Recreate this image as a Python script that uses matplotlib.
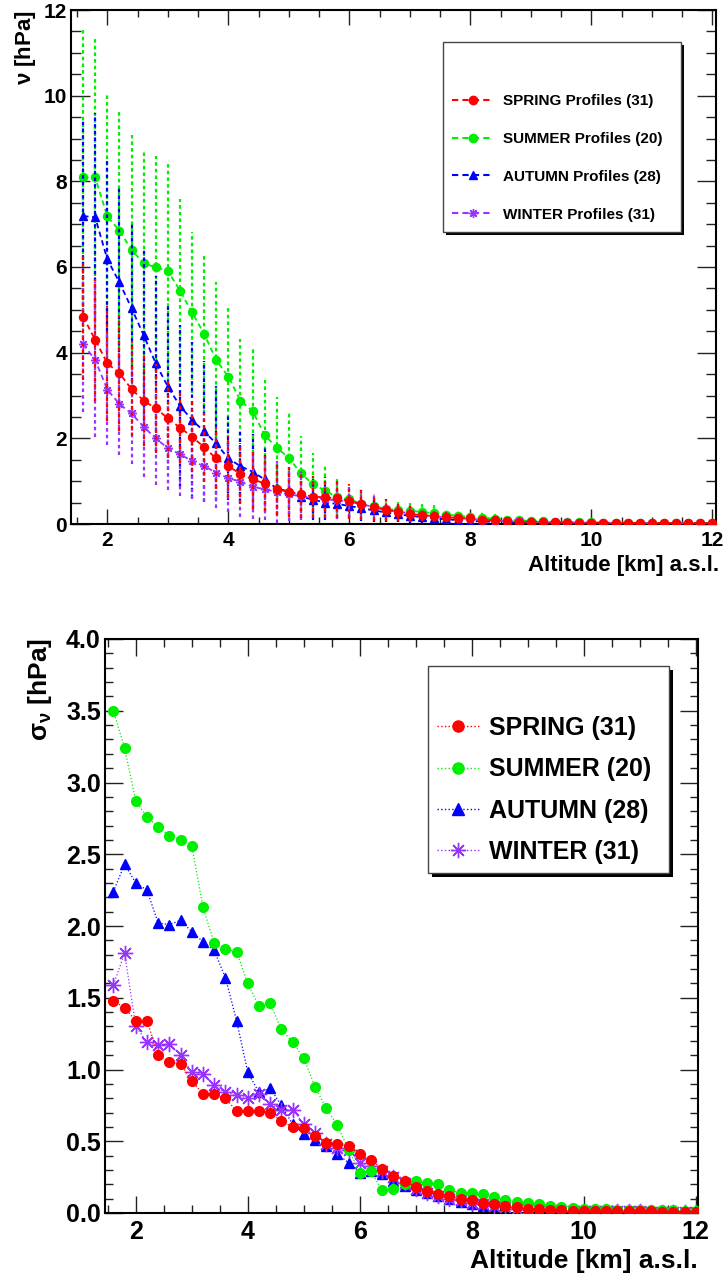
import matplotlib
matplotlib.use('Agg')
import matplotlib.pyplot as plt
from matplotlib.lines import Line2D
from matplotlib.patches import Rectangle

plt.rcParams['font.family'] = ['Liberation Sans', 'DejaVu Sans']
plt.rcParams['font.weight'] = 'bold'
plt.rcParams['mathtext.fontset'] = 'custom'
plt.rcParams['mathtext.rm'] = 'Liberation Sans'
plt.rcParams['mathtext.it'] = 'Liberation Sans'
plt.rcParams['mathtext.default'] = 'regular'

# altitude bins [km a.s.l.]
altitude = [1.6, 1.8, 2.0, 2.2, 2.4, 2.6, 2.8, 3.0, 3.2, 3.4,
            3.6, 3.8, 4.0, 4.2, 4.4, 4.6, 4.8, 5.0, 5.2, 5.4,
            5.6, 5.8, 6.0, 6.2, 6.4, 6.6, 6.8, 7.0, 7.2, 7.4,
            7.6, 7.8, 8.0, 8.2, 8.4, 8.6, 8.8, 9.0, 9.2, 9.4,
            9.6, 9.8, 10.0, 10.2, 10.4, 10.6, 10.8, 11.0, 11.2, 11.4,
            11.6, 11.8, 12.0]

# mean water vapour pressure [hPa]
spring_mean = [4.84, 4.30, 3.75, 3.52, 3.15, 2.88, 2.70, 2.47, 2.25, 2.04,
               1.79, 1.53, 1.35, 1.17, 1.04, 0.95, 0.81, 0.75, 0.69, 0.64,
               0.62, 0.60, 0.53, 0.46, 0.39, 0.33, 0.28, 0.23, 0.21, 0.18,
               0.16, 0.14, 0.13, 0.10, 0.085, 0.06, 0.055, 0.045, 0.04, 0.037,
               0.035, 0.032, 0.03, 0.028, 0.026, 0.025, 0.024, 0.023, 0.022, 0.021,
               0.02, 0.02, 0.02]
summer_mean = [8.09, 8.09, 7.18, 6.85, 6.40, 6.09, 5.99, 5.91, 5.45, 4.94,
               4.44, 3.83, 3.44, 2.88, 2.64, 2.08, 1.78, 1.55, 1.18, 0.93,
               0.78, 0.62, 0.58, 0.47, 0.42, 0.36, 0.32, 0.31, 0.28, 0.25,
               0.22, 0.19, 0.17, 0.15, 0.12, 0.10, 0.09, 0.07, 0.06, 0.05,
               0.045, 0.04, 0.037, 0.034, 0.032, 0.03, 0.028, 0.026, 0.025, 0.024,
               0.023, 0.022, 0.022]
autumn_mean = [7.19, 7.16, 6.18, 5.64, 5.04, 4.41, 3.75, 3.21, 2.76, 2.43,
               2.16, 1.88, 1.53, 1.35, 1.22, 1.04, 0.83, 0.76, 0.64, 0.57,
               0.50, 0.47, 0.42, 0.37, 0.32, 0.27, 0.23, 0.19, 0.16, 0.13,
               0.11, 0.09, 0.07, 0.06, 0.05, 0.04, 0.03, 0.025, 0.02, 0.018,
               0.016, 0.015, 0.014, 0.013, 0.012, 0.012, 0.011, 0.011, 0.01, 0.01,
               0.01, 0.01, 0.01]
winter_mean = [4.20, 3.83, 3.14, 2.80, 2.58, 2.27, 2.00, 1.77, 1.63, 1.47,
               1.35, 1.20, 1.07, 0.99, 0.87, 0.81, 0.75, 0.69, 0.65, 0.62,
               0.58, 0.55, 0.52, 0.46, 0.40, 0.34, 0.29, 0.25, 0.21, 0.18,
               0.16, 0.14, 0.12, 0.10, 0.08, 0.07, 0.06, 0.05, 0.045, 0.04,
               0.036, 0.033, 0.03, 0.028, 0.026, 0.025, 0.024, 0.023, 0.022, 0.021,
               0.02, 0.02, 0.02]

# standard deviation [hPa]
spring_sd = [1.48, 1.43, 1.34, 1.34, 1.10, 1.05, 1.04, 0.92, 0.83, 0.83,
             0.80, 0.71, 0.71, 0.71, 0.70, 0.64, 0.60, 0.59, 0.54, 0.49,
             0.48, 0.47, 0.41, 0.37, 0.31, 0.26, 0.22, 0.18, 0.15, 0.13,
             0.12, 0.10, 0.09, 0.07, 0.06, 0.05, 0.04, 0.03, 0.025, 0.02,
             0.018, 0.016, 0.015, 0.014, 0.013, 0.012, 0.012, 0.011, 0.011, 0.010,
             0.010, 0.010, 0.010]
summer_sd = [3.50, 3.24, 2.87, 2.76, 2.69, 2.63, 2.60, 2.56, 2.13, 1.88,
             1.84, 1.82, 1.60, 1.44, 1.46, 1.28, 1.19, 1.08, 0.88, 0.73,
             0.61, 0.44, 0.28, 0.29, 0.16, 0.17, 0.20, 0.22, 0.21, 0.20,
             0.16, 0.14, 0.14, 0.13, 0.11, 0.09, 0.08, 0.07, 0.06, 0.05,
             0.04, 0.035, 0.03, 0.028, 0.026, 0.024, 0.022, 0.02, 0.02, 0.018,
             0.018, 0.016, 0.016]
autumn_sd = [2.24, 2.43, 2.30, 2.25, 2.02, 2.01, 2.04, 1.96, 1.89, 1.83,
             1.64, 1.34, 0.98, 0.84, 0.87, 0.75, 0.62, 0.55, 0.51, 0.47,
             0.41, 0.35, 0.28, 0.29, 0.27, 0.22, 0.19, 0.16, 0.14, 0.12,
             0.10, 0.08, 0.06, 0.05, 0.04, 0.03, 0.02, 0.015, 0.012, 0.01,
             0.009, 0.008, 0.008, 0.007, 0.007, 0.006, 0.006, 0.006, 0.005, 0.005,
             0.005, 0.005, 0.005]
winter_sd = [1.59, 1.81, 1.30, 1.19, 1.17, 1.18, 1.10, 0.98, 0.97, 0.89,
             0.84, 0.82, 0.80, 0.83, 0.76, 0.72, 0.72, 0.62, 0.56, 0.48,
             0.45, 0.44, 0.35, 0.33, 0.29, 0.25, 0.21, 0.17, 0.14, 0.12,
             0.10, 0.09, 0.07, 0.06, 0.05, 0.04, 0.03, 0.025, 0.02, 0.018,
             0.016, 0.015, 0.014, 0.013, 0.012, 0.012, 0.011, 0.011, 0.01, 0.01,
             0.01, 0.01, 0.01]

seasons = ['SPRING', 'SUMMER', 'AUTUMN', 'WINTER']
n_profiles = [31, 20, 28, 31]
colors = ['#ff0000', '#00ee00', '#0000ff', '#9933ff']
markers = ['o', 'o', '^', (8, 2, 0)]
means = [spring_mean, summer_mean, autumn_mean, winter_mean]
sds = [spring_sd, summer_sd, autumn_sd, winter_sd]

W, H = 726, 1275
fig = plt.figure(figsize=(W / 100, H / 100), dpi=100)


def px_axes(left, top, right, bottom):
    return fig.add_axes([left / W, 1 - bottom / H, (right - left) / W, (bottom - top) / H])


def style_axes(ax, xmaj, ymaj, lab):
    ax.tick_params(which='both', direction='in', top=True, right=True,
                   color='#222222', width=1, labelsize=lab)
    ax.tick_params(axis='x', which='major', length=xmaj[0], pad=5)
    ax.tick_params(axis='x', which='minor', length=xmaj[1])
    ax.tick_params(axis='y', which='major', length=ymaj[0], pad=3)
    ax.tick_params(axis='y', which='minor', length=ymaj[1])
    for s in ax.spines.values():
        s.set_linewidth(1.5)


# ---- top panel: mean profiles with spread ----
ax1 = px_axes(71, 10, 716, 524)
order_top = [1, 2, 3, 0]
for i in order_top:
    ms = 6.5 if i == 3 else 5.8
    pl, caps, bars = ax1.errorbar(altitude, means[i], yerr=sds[i], fmt='',
                                  marker=markers[i], ls=(0, (3, 2)), lw=1.3,
                                  color=colors[i], ms=ms, mew=1.0, elinewidth=1.6,
                                  capsize=0, zorder=2 + order_top.index(i))
    bars[0].set_linestyle((0, (1.6, 1.4)))

ax1.set_xlim(1.4, 12.06)
ax1.set_ylim(0, 12)
ax1.set_xticks([2, 4, 6, 8, 10, 12])
ax1.set_xticks([1.5 + 0.5 * k for k in range(22)], minor=True)
ax1.set_yticks([0, 2, 4, 6, 8, 10, 12])
ax1.set_yticks([0.5 * k for k in range(25)], minor=True)
style_axes(ax1, (11, 5), (14, 7), 15)
for t in ax1.get_xticklabels() + ax1.get_yticklabels():
    t.set_fontweight('bold')

fig.text(25 / W, 1 - 10 / H, r'$\nu$ [hPa]', rotation=90, ha='center', va='top',
         fontsize=16, fontweight='bold')
fig.text(719 / W, 1 - 571 / H, 'Altitude [km] a.s.l.', ha='right', va='baseline',
         fontsize=16, fontweight='bold')

# legend frame with shadow
fig.patches.append(Rectangle((446 / W, 1 - 235 / H), 238 / W, 190 / H,
                             transform=fig.transFigure, fc='black', ec='none', zorder=5))
fig.patches.append(Rectangle((443 / W, 1 - 232 / H), 238 / W, 190 / H,
                             transform=fig.transFigure, fc='white', ec='#444444', lw=1, zorder=6))
h_top = [Line2D([], [], color=colors[i], ls=(0, (3, 2)), lw=1.5, marker=markers[i],
                ms=6.5 if i == 3 else 6) for i in range(4)]
lab_top = ['%s Profiles (%d)' % (s, n) for s, n in zip(seasons, n_profiles)]
leg1 = fig.legend(h_top, lab_top, loc='center left', bbox_to_anchor=(452 / W, 1 - 158 / H),
                  frameon=False, fontsize=11, handlelength=2.7, handletextpad=0.65,
                  labelspacing=1.55, borderpad=0, borderaxespad=0)
leg1.set_zorder(7)
for t in leg1.get_texts():
    t.set_fontweight('bold')

# ---- bottom panel: standard deviation ----
ax2 = px_axes(105, 639, 698, 1213)
order_bot = [2, 3, 1, 0]
for i in order_bot:
    ms = 11 if i == 3 else 7
    ax2.plot(altitude, sds[i], color=colors[i], ls=':', lw=0.9, marker=markers[i],
             ms=ms, mew=1.0, zorder=2 + order_bot.index(i))

ax2.set_xlim(1.45, 12.04)
ax2.set_ylim(0, 4)
ax2.set_xticks([2, 4, 6, 8, 10, 12])
ax2.set_xticks([1.5 + 0.5 * k for k in range(22)], minor=True)
ax2.set_yticks([0.5 * k for k in range(9)])
ax2.set_yticklabels(['%.1f' % (0.5 * k) for k in range(9)])
ax2.set_yticks([0.1 * k for k in range(41)], minor=True)
style_axes(ax2, (12, 6), (13, 6), 18)
for t in ax2.get_xticklabels() + ax2.get_yticklabels():
    t.set_fontweight('bold')

fig.text(40 / W, 1 - 638 / H, r'$\sigma_{\nu}$ [hPa]', rotation=90, ha='center', va='top',
         fontsize=19, fontweight='bold')
fig.text(698 / W, 1 - 1268 / H, 'Altitude [km] a.s.l.', ha='right', va='baseline',
         fontsize=19, fontweight='bold')

fig.patches.append(Rectangle((432 / W, 1 - 877 / H), 241 / W, 207 / H,
                             transform=fig.transFigure, fc='black', ec='none', zorder=5))
fig.patches.append(Rectangle((428 / W, 1 - 873 / H), 241 / W, 207 / H,
                             transform=fig.transFigure, fc='white', ec='#444444', lw=1, zorder=6))
h_bot = [Line2D([], [], color=colors[i], ls=':', lw=1.0, marker=markers[i],
                ms=11 if i == 3 else 8) for i in range(4)]
lab_bot = ['%s (%d)' % (s, n) for s, n in zip(seasons, n_profiles)]
leg2 = fig.legend(h_bot, lab_bot, loc='center left', bbox_to_anchor=(437 / W, 1 - 790 / H),
                  frameon=False, fontsize=18, handlelength=1.68, handletextpad=0.4,
                  labelspacing=0.69, borderpad=0, borderaxespad=0)
leg2.set_zorder(7)
for t in leg2.get_texts():
    t.set_fontweight('bold')

fig.savefig('out.png', dpi=100)
